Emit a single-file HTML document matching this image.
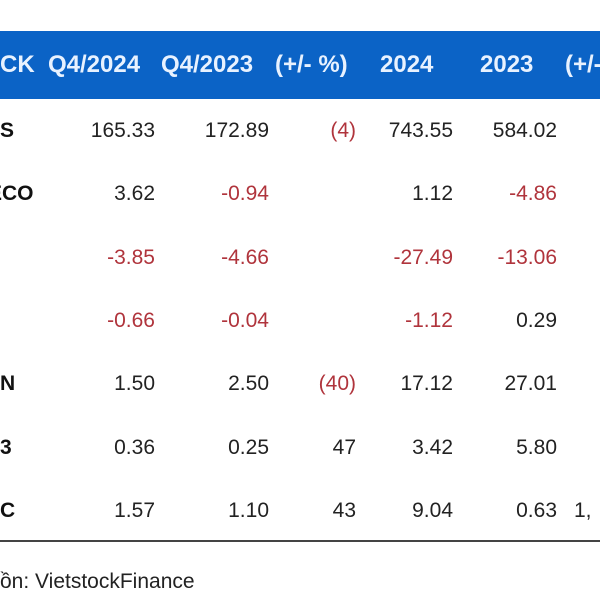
<!DOCTYPE html>
<html><head><meta charset="utf-8"><style>
body{margin:0;width:600px;height:600px;background:#fff;position:relative;overflow:hidden;font-family:"Liberation Sans",sans-serif}
.hdr{position:absolute;left:0;top:31px;width:600px;height:68px;background:#0b63c6}
.h{position:absolute;top:49px;color:#e8f2ff;font-weight:bold;font-size:24px;white-space:nowrap;line-height:32px}
.c{position:absolute;font-size:21px;color:#222;white-space:nowrap;text-align:right;line-height:26px}
.neg{color:#b0343c}
.lab{position:absolute;font-weight:bold;font-size:21px;color:#111;line-height:26px}
.line{position:absolute;left:0;top:540px;width:600px;height:2px;background:#444}
.src{position:absolute;left:0;top:570px;font-size:21px;color:#222}
</style></head><body>
<div class="hdr"></div>
<div class="h" style="left:0">CK</div>
<div class="h" style="left:48px">Q4/2024</div>
<div class="h" style="left:161px">Q4/2023</div>
<div class="h" style="left:275px">(+/- %)</div>
<div class="h" style="left:380px">2024</div>
<div class="h" style="left:480px">2023</div>
<div class="h" style="left:565px">(+/-</div>
<div id="rows"></div>
<div class="line"></div>
<div class="src">ồn: VietstockFinance</div>
<script>
const labels=["S","ECO","","","N","3","C"];
const q424=["165.33","3.62","-3.85","-0.66","1.50","0.36","1.57"];
const q423=["172.89","-0.94","-4.66","-0.04","2.50","0.25","1.10"];
const chq=["(4)","","","","(40)","47","43"];
const y24=["743.55","1.12","-27.49","-1.12","17.12","3.42","9.04"];
const y23=["584.02","-4.86","-13.06","0.29","27.01","5.80","0.63"];
const chy=["","","","","","","1,"];
const cols=[[q424,155,'q4-2024'],[q423,269,'q4-2023'],[chq,356,'change-q'],[y24,453,'y2024'],[y23,557,'y2023']];
const root=document.getElementById('rows');
const rowY=i=>118+i*63.3;
labels.forEach((l,i)=>{
  const d=document.createElement('div');d.className='lab';d.textContent=l;
  d.style.left=(l.length>1?'-12px':'0px');d.style.top=rowY(i)+'px';
  
  
  root.appendChild(d);
  cols.forEach(([arr,r,n])=>{
    const v=arr[i];if(!v)return;
    const e=document.createElement('div');e.className='c'+((v[0]=='-'||v[0]=='(')?' neg':'');
    e.textContent=v;e.style.right=(600-r)+'px';e.style.top=rowY(i)+'px';
    
    
    root.appendChild(e);
  });
  if(chy[i]){const e=document.createElement('div');e.className='c';e.textContent=chy[i];e.style.left='574px';e.style.top=rowY(i)+'px';
    
    
    root.appendChild(e);}
});
</script>
</body></html>
